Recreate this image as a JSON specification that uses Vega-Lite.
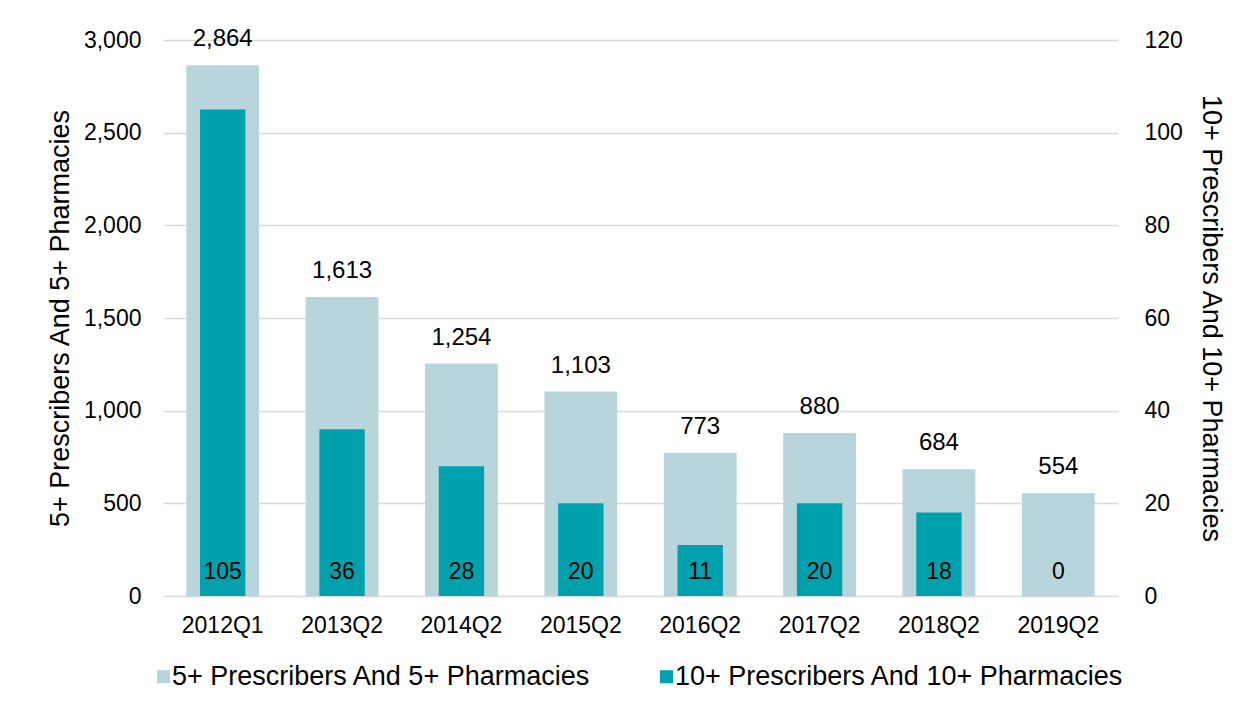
{
  "$schema": "https://vega.github.io/schema/vega-lite/v6.json",
  "width": 955,
  "height": 556,
  "autosize": {"type": "none"},
  "padding": {"left": 163, "top": 40, "right": 128, "bottom": 113},
  "background": "white",
  "config": {
    "font": "Liberation Sans",
    "view": {"stroke": null},
    "axis": {"labelFont": "Liberation Sans", "titleFont": "Liberation Sans", "labelColor": "#000000", "titleColor": "#000000", "titleFontWeight": "normal"},
    "legend": {"labelFont": "Liberation Sans"}
  },
  "data": {
    "values": [
      {"period": "2012Q1", "five": 2864, "ten": 105},
      {"period": "2013Q2", "five": 1613, "ten": 36},
      {"period": "2014Q2", "five": 1254, "ten": 28},
      {"period": "2015Q2", "five": 1103, "ten": 20},
      {"period": "2016Q2", "five": 773, "ten": 11},
      {"period": "2017Q2", "five": 880, "ten": 20},
      {"period": "2018Q2", "five": 684, "ten": 18},
      {"period": "2019Q2", "five": 554, "ten": 0}
    ]
  },
  "encoding": {
    "x": {
      "field": "period", "type": "nominal", "sort": null,
      "scale": {"paddingInner": 0, "paddingOuter": 0},
      "axis": {"title": null, "labelAngle": 0, "labelFontSize": 23, "labelPadding": 18, "ticks": false, "domain": false, "grid": false}
    }
  },
  "layer": [
    {
      "layer": [
        {
          "mark": {"type": "bar", "width": {"band": 0.61}},
          "encoding": {
            "y": {
              "field": "five", "type": "quantitative",
              "scale": {"domain": [0, 3000]},
              "axis": {"title": "5+ Prescribers And 5+ Pharmacies", "titleFontSize": 27, "titlePadding": 9, "values": [0, 500, 1000, 1500, 2000, 2500, 3000], "format": ",.0f", "labelFontSize": 23, "labelPadding": 22, "ticks": false, "domain": false, "gridColor": "#d9d9d9", "gridWidth": 1.5}
            },
            "color": {
              "datum": "5+ Prescribers And 5+ Pharmacies",
              "scale": {"domain": ["5+ Prescribers And 5+ Pharmacies", "10+ Prescribers And 10+ Pharmacies"], "range": ["#B9D5DC", "#00A1AC"]},
              "legend": {"title": null, "orient": "none", "legendX": -13, "legendY": 623, "direction": "horizontal", "symbolType": "square", "symbolSize": 170, "symbolStrokeWidth": 0, "labelFontSize": 27, "labelLimit": 600, "labelColor": "#000000", "columnPadding": 62, "labelOffset": -5}
            }
          }
        },
        {
          "mark": {"type": "text", "baseline": "middle", "dy": -26, "fontSize": 24, "color": "#000000"},
          "encoding": {
            "y": {"field": "five", "type": "quantitative", "scale": {"domain": [0, 3000]}},
            "text": {"field": "five", "type": "quantitative", "format": ",.0f"}
          }
        }
      ]
    },
    {
      "layer": [
        {
          "mark": {"type": "bar", "width": {"band": 0.38}},
          "encoding": {
            "y": {
              "field": "ten", "type": "quantitative",
              "scale": {"domain": [0, 120]},
              "axis": {"title": "10+ Prescribers And 10+ Pharmacies", "orient": "right", "titleFontSize": 27, "titlePadding": 14, "values": [0, 20, 40, 60, 80, 100, 120], "labelFontSize": 23, "labelPadding": 26, "ticks": false, "domain": false, "grid": false}
            },
            "color": {"datum": "10+ Prescribers And 10+ Pharmacies"}
          }
        },
        {
          "mark": {"type": "text", "baseline": "middle", "dy": -24, "fontSize": 23, "color": "#000000"},
          "encoding": {
            "y": {"datum": 0, "type": "quantitative", "scale": {"domain": [0, 120]}},
            "text": {"field": "ten", "type": "quantitative"}
          }
        }
      ]
    }
  ],
  "resolve": {"scale": {"y": "independent"}}
}
